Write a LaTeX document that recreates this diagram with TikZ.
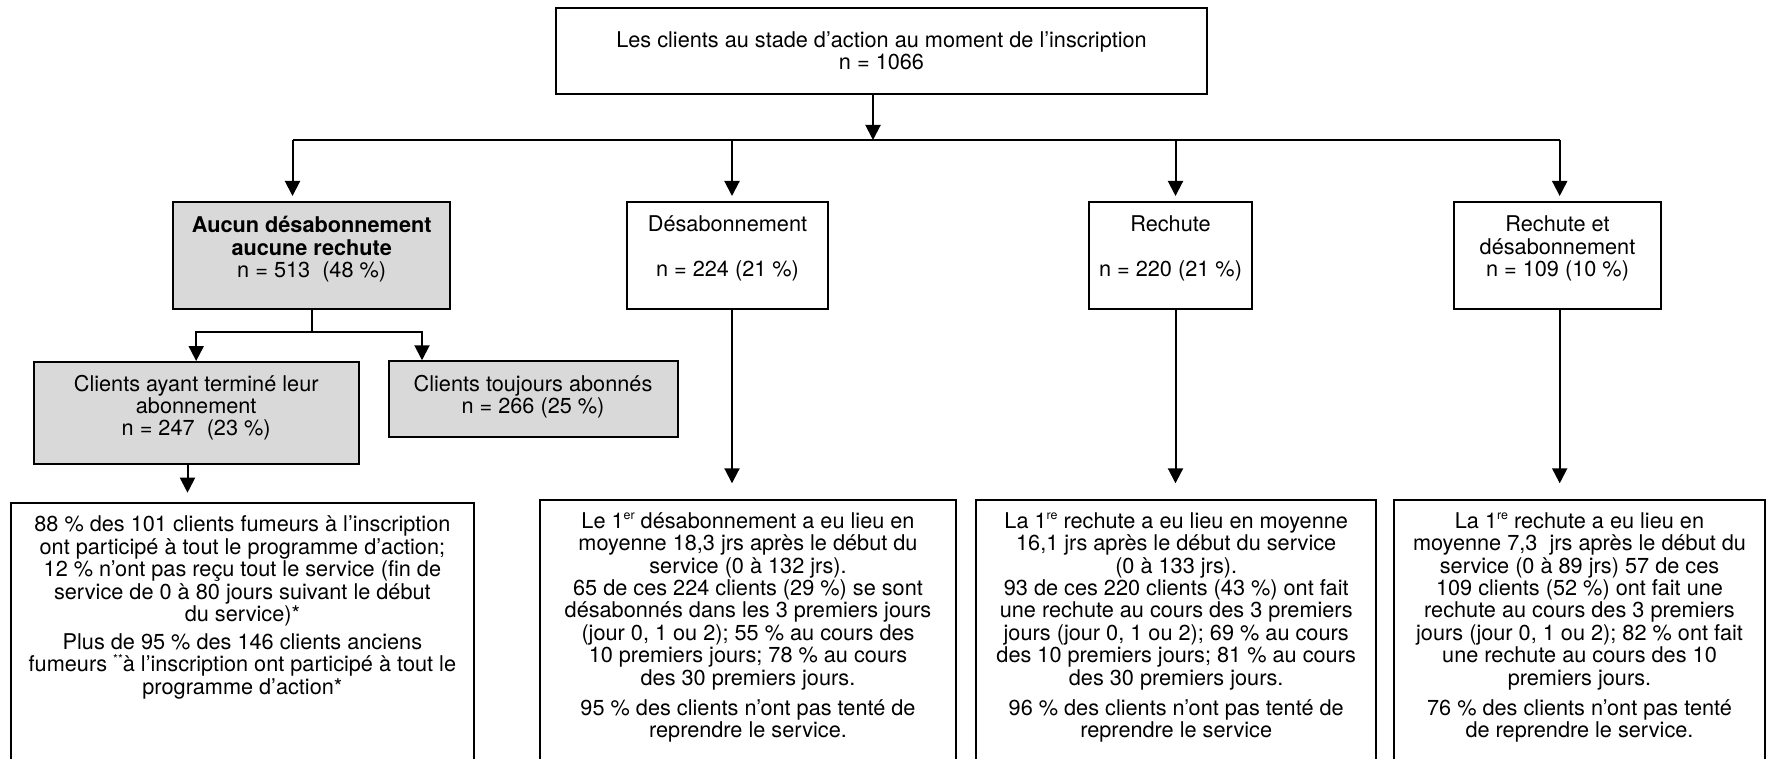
\documentclass[tikz,border=0pt]{standalone}
\usepackage{fontspec}
\setmainfont{TeX Gyre Heros}
\usepackage{xcolor}
\definecolor{boxgrey}{HTML}{D9D9D9}
\definecolor{linecolor}{HTML}{000000}
\usepackage{tikz}
\usetikzlibrary{positioning,arrows.meta,calc}
\newcommand{\boxfont}{\fontsize{10.85}{11.2}\selectfont}
\newcommand{\lowpad}[1]{\rule[-#1]{0pt}{#1}}
\newcommand{\supx}[1]{\raisebox{4.2pt}{\fontsize{6.2}{6.2}\selectfont #1}}
\tikzset{
    box/.style={
        rectangle,
        draw=linecolor,
        line width=1pt,
        align=center,
        font=\boxfont,
        inner xsep=2pt,
        inner ysep=3pt,
    },
    greybox/.style={
        box,
        fill=boxgrey,
    },
    resbox/.style={
        box,
        anchor=north,
        inner ysep=6.5pt,
    },
    link/.style={
        line width=1pt,
        linecolor,
    },
    arr/.style={
        -{Triangle[length=7.5pt,width=7.5pt]},
        line width=1pt,
        linecolor,
    },
}
\begin{document}
\begin{tikzpicture}[x=0.5pt, y=-0.5pt]
    \useasboundingbox (0,0) rectangle (1766,759);
    \clip (0,0) rectangle (1766,759);

    % Root
    \node[box, minimum width=325.5pt, minimum height=43pt] (clients) at (881.5,51) {Les clients au stade d’action au moment de l’inscription\\ n = 1066};

    % Outcomes
    \node[greybox, minimum width=138.5pt, minimum height=53.5pt] (aucun) at (311.7,255.5) {\textbf{Aucun désabonnement}\\ \textbf{aucune rechute}\\ n = 513\ \ (48 \%)\lowpad{8.3pt}};
    \node[box, minimum width=100.5pt, minimum height=53.5pt] (desab) at (727.5,255.5) {Désabonnement\\[11.2pt] n = 224 (21 \%)\lowpad{9.3pt}};
    \node[box, minimum width=81.5pt, minimum height=53.5pt] (rechute) at (1170.5,255.5) {Rechute\\[11.2pt] n = 220 (21 \%)\lowpad{9.3pt}};
    \node[box, minimum width=103.5pt, minimum height=53.5pt] (rechdes) at (1557.5,255.5) {Rechute et\\ désabonnement\\ n = 109 (10 \%)\lowpad{9.3pt}};

    % Sub-groups
    \node[greybox, minimum width=162.5pt, minimum height=51pt] (termine) at (196.2,413) {Clients ayant terminé leur\\ abonnement\\ n = 247\ \ (23 \%)\lowpad{7.6pt}};
    \node[greybox, minimum width=144.5pt, minimum height=37.75pt] (abonnes) at (533,399) {Clients toujours abonnés\\ n = 266 (25 \%)\lowpad{4.7pt}};

    % Details
    \node[resbox, minimum width=231.7pt] (termdet) at (242.4,502) {88 \% des 101 clients fumeurs à l’inscription\\
        ont participé à tout le programme d’action;\\
        12 \% n’ont pas reçu tout le service (fin de\\
        service de 0 à 80 jours suivant le début\\
        du service)*\\[2.8pt]
        Plus de 95 \% des 146 clients anciens\\
        fumeurs \supx{**}à l’inscription ont participé à tout le\\
        programme d’action*\lowpad{160pt}};
    \node[resbox, minimum width=208pt] (desabdet) at (748,498.5) {Le 1\supx{er} désabonnement a eu lieu en\\
        moyenne 18,3 jrs après le début du\\
        service (0 à 132 jrs).\\
        65 de ces 224 clients (29 \%) se sont\\
        désabonnés dans les 3 premiers jours\\
        (jour 0, 1 ou 2); 55 \% au cours des\\
        10 premiers jours; 78 \% au cours\\
        des 30 premiers jours.\\[3.8pt]
        95 \% des clients n’ont pas tenté de\\
        reprendre le service.\lowpad{160pt}};
    \node[resbox, minimum width=199.75pt] (rechdet) at (1176.2,498.5) {La 1\supx{re} rechute a eu lieu en moyenne\\
        16,1 jrs après le début du service\\
        (0 à 133 jrs).\\
        93 de ces 220 clients (43 \%) ont fait\\
        une rechute au cours des 3 premiers\\
        jours (jour 0, 1 ou 2); 69 \% au cours\\
        des 10 premiers jours; 81 \% au cours\\
        des 30 premiers jours.\\[3.8pt]
        96 \% des clients n’ont pas tenté de\\
        reprendre le service\lowpad{160pt}};
    \node[resbox, minimum width=185.5pt] (rdesdet) at (1579.5,498.5) {La 1\supx{re} rechute a eu lieu en\\
        moyenne 7,3\ \ jrs après le début du\\
        service (0 à 89 jrs) 57 de ces\\
        109 clients (52 \%) ont fait une\\
        rechute au cours des 3 premiers\\
        jours (jour 0, 1 ou 2); 82 \% ont fait\\
        une rechute au cours des 10\\
        premiers jours.\\[3.8pt]
        76 \% des clients n’ont pas tenté\\
        de reprendre le service.\lowpad{160pt}};

    % Bus
    \coordinate (busL) at (292.5,140);
    \coordinate (busB) at (732,140);
    \coordinate (busC) at (1175.5,140);
    \coordinate (busR) at (1559.7,140);
    \coordinate (rootout) at ([xshift=-4.25pt]clients.south);
    \draw[arr] (rootout) -- (rootout |- busL);
    \draw[link] (busL) -- (busR);

    % Connections
    \draw[arr, shorten >=2.5pt] (busL) -- (busL |- aucun.north);
    \draw[arr, shorten >=2.5pt] (busB) -- (busB |- desab.north);
    \draw[arr, shorten >=2.5pt] (busC) -- (busC |- rechute.north);
    \draw[arr, shorten >=2.5pt] (busR) -- (busR |- rechdes.north);

    \coordinate (split) at ([yshift=-11pt]aucun.south);
    \draw[link] (aucun.south) -- (split);
    \draw[arr] (split) -| (termine.north);
    \draw[arr] (split) -| ([xshift=-55.5pt]abonnes.north);

    \coordinate (termout) at ([xshift=-4.35pt]termine.south);
    \draw[arr, shorten >=4.65pt] (termout) -- (termout |- termdet.north);
    \draw[arr, shorten >=7.6pt] (desab.south -| busB) -- (desabdet.north -| busB);
    \draw[arr, shorten >=7.6pt] (rechute.south -| busC) -- (rechdet.north -| busC);
    \draw[arr, shorten >=7.6pt] (rechdes.south -| busR) -- (rdesdet.north -| busR);

\end{tikzpicture}
\end{document}
